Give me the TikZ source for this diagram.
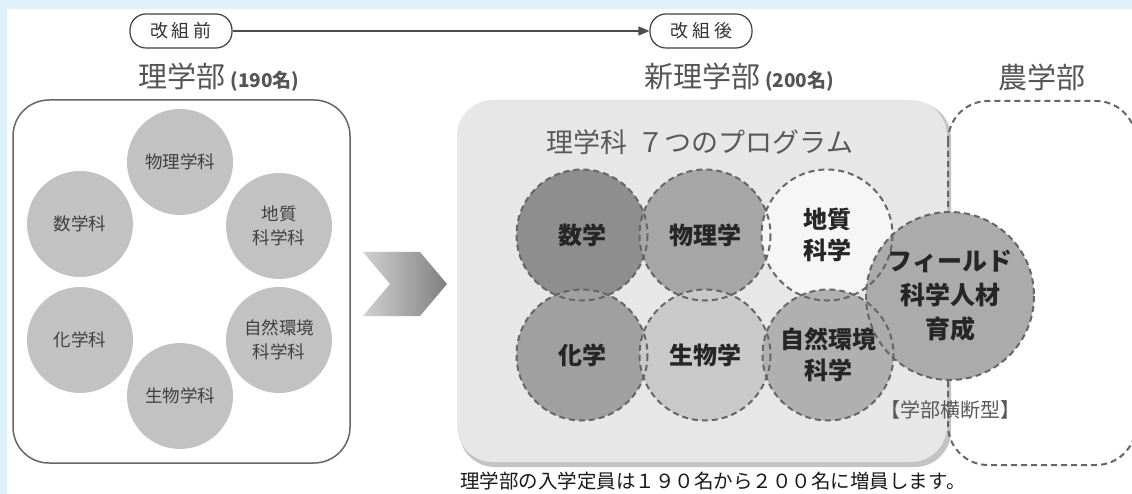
\documentclass[tikz,border=0pt]{standalone}
\usepackage{fontspec}
\setmainfont{Noto Sans CJK JP}
\usetikzlibrary{arrows.meta}
\definecolor{bgblue}{HTML}{DFF2FA}
\definecolor{txtgray}{HTML}{555555}
\definecolor{oldc}{HTML}{C2C2C2}
\definecolor{dashc}{HTML}{666666}
\definecolor{cMath}{HTML}{8E8E8E}
\definecolor{cPhys}{HTML}{A6A6A6}
\definecolor{cGeo}{HTML}{F6F6F6}
\definecolor{cChem}{HTML}{A0A0A0}
\definecolor{cBio}{HTML}{C9C9C9}
\definecolor{cEnv}{HTML}{B0B0B0}
\definecolor{cField}{HTML}{ABABAB}
\definecolor{boxfill}{HTML}{E7E7E7}
\definecolor{boxshadow}{HTML}{C4C4C4}
\tikzset{
  pill/.style={draw=black!75, line width=1.2pt, fill=white, rounded corners=16pt,
    minimum width=102pt, minimum height=34pt, inner sep=0pt, font=\fontsize{18}{18}\selectfont, text=black!80},
  title/.style={text=txtgray, inner sep=0pt, anchor=center},
  oldcirc/.style={circle, fill=oldc, minimum size=106pt, inner sep=0pt, align=center,
    font=\fontsize{17.5}{24}\selectfont, text=black!75},
  newcirc/.style={circle, minimum size=131pt, inner sep=0pt, align=center,
    font=\bfseries\fontsize{24}{31}\selectfont, text=black!85},
  dashline/.style={draw=dashc, line width=2pt, dash pattern=on 6pt off 4pt},
}
\begin{document}
\begin{tikzpicture}[x=1pt,y=-1pt]
\useasboundingbox (0,0) rectangle (1132,494);
\fill[bgblue] (0,0) rectangle (1132,494);
\fill[white] (7,9) rectangle (1132,494);

% top pills and arrow
\node[pill] (before) at (181,31) {改\hspace{4pt}組\hspace{4pt}前};
\node[pill] (after) at (701,31) {改\hspace{4pt}組\hspace{4pt}後};
\draw[draw=black!70, line width=1.5pt, -{Triangle[length=11pt,width=9pt]}] (before.east) -- (after.west);

% titles
\node[title] (t1) at (219,77) {\fontsize{29}{29}\selectfont 理学部\hspace{5pt}\bfseries\fontsize{19}{19}\selectfont (190名)};
\node[title] (t2) at (739,77) {\fontsize{29}{29}\selectfont 新理学部\hspace{5pt}\bfseries\fontsize{19}{19}\selectfont (200名)};
\node[title] (t3) at (1042,77) {\fontsize{29}{29}\selectfont 農学部};

% old faculty box
\draw[draw=black!60, line width=1.5pt, rounded corners=36pt] (13,100) rectangle (350,463);
\node[oldcirc] (o1) at (180,162) {物理学科};
\node[oldcirc] (o2) at (80,224) {数学科};
\node[oldcirc] (o3) at (279,226) {地質\\科学科};
\node[oldcirc] (o4) at (80,340) {化学科};
\node[oldcirc] (o5) at (279,340) {自然環境\\科学科};
\node[oldcirc] (o6) at (180,396) {生物学科};

% chevron
\shade[left color=black!18, right color=black!50]
  (363,252) -- (420,252) -- (447,284) -- (420,316) -- (363,316) -- (390,284) -- cycle;

% new faculty box
\fill[boxshadow, rounded corners=36pt] (459,102) rectangle (951,467);
\fill[boxfill, rounded corners=36pt] (457,100) rectangle (947,462);
\node[inner sep=0pt, text=black!65, font=\fontsize{27}{27}\selectfont] (prog) at (700,142) {理学科\hspace{10pt}７つのプログラム};

% agriculture dashed box
\draw[dashline, rounded corners=40pt] (948,101) rectangle (1136,465);

% new circles fills
\node[newcirc, fill=cMath] (math) at (582,235) {数学};
\node[newcirc, fill=cPhys] (phys) at (705,235) {物理学};
\node[newcirc, fill=cGeo] (geo) at (827,235) {地質\\科学};
\node[newcirc, fill=cChem] (chem) at (582,355) {化学};
\node[newcirc, fill=cBio] (bio) at (705,355) {生物学};
\node[newcirc, fill=cEnv] (env) at (828,355) {自然環境\\科学};
\node[newcirc, fill=cField, minimum size=168pt, font=\bfseries\fontsize{25}{34}\selectfont] (field) at (950,296) {フィールド\\科学人材\\育成};

% dashed outlines
\foreach \n in {math,phys,geo,chem,bio,env} {\draw[dashline] (\n.center) circle[radius=65.5];}
\draw[dashline] (field.center) circle[radius=84];

\node[inner sep=0pt, text=black!65, font=\fontsize{20}{20}\selectfont] (cross) at (950,410) {【学部横断型】};

% bottom note
\node[inner sep=0pt, text=black!90, font=\fontsize{19.5}{19.5}\selectfont] (note) at (713,481) {理学部の入学定員は１９０名から２００名に増員します。};
\end{tikzpicture}
\end{document}
